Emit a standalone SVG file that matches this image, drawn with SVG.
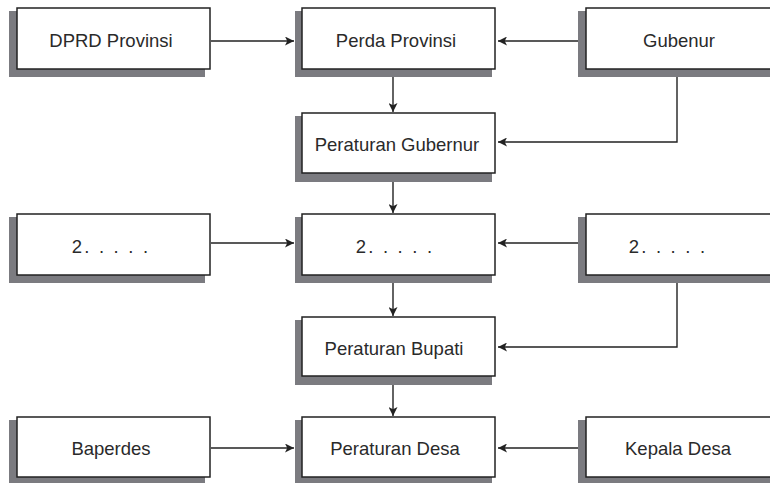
<svg xmlns="http://www.w3.org/2000/svg" width="770" height="483" viewBox="0 0 770 483">
<style>
.sh{fill:#7b7b80;stroke:none}
.bx{fill:#ffffff;stroke:#222222;stroke-width:1.5}
.tx{font-family:"Liberation Sans",Arial,sans-serif;font-size:18.5px;fill:#2a2a2a;text-anchor:middle}
.dots{letter-spacing:2.2px}
.cn{fill:none;stroke:#222222;stroke-width:1.4}
</style>
<defs>
<marker id="ah" viewBox="0 0 10 10" refX="10" refY="5" markerWidth="9" markerHeight="9" markerUnits="userSpaceOnUse" orient="auto">
<path d="M0,0 L10,5 L0,10 L2.5,5 Z" fill="#222222"/>
</marker>
</defs>
<rect width="770" height="483" fill="#ffffff"/>

<g id="dprd">
<rect class="sh" x="9" y="11" width="196" height="66"/>
<rect class="bx" x="17" y="8" width="193" height="61"/>
<text class="tx" x="111" y="47">DPRD Provinsi</text>
</g>
<g id="perda">
<rect class="sh" x="295" y="11" width="197" height="66"/>
<rect class="bx" x="302" y="8" width="193" height="61"/>
<text class="tx" x="396" y="47">Perda Provinsi</text>
</g>
<g id="gubenur">
<rect class="sh" x="578" y="11" width="197" height="66"/>
<rect class="bx" x="586" y="8" width="193" height="61"/>
<text class="tx" x="679" y="47">Gubenur</text>
</g>
<g id="pergub">
<rect class="sh" x="295" y="116" width="197" height="66"/>
<rect class="bx" x="302" y="113" width="193" height="60"/>
<text class="tx" x="397" y="151">Peraturan Gubernur</text>
</g>
<g id="left2">
<rect class="sh" x="9" y="217" width="196" height="66"/>
<rect class="bx" x="17" y="214" width="193" height="61"/>
<text class="tx dots" x="111" y="253">2. . . . .</text>
</g>
<g id="mid2">
<rect class="sh" x="295" y="217" width="197" height="66"/>
<rect class="bx" x="302" y="214" width="193" height="61"/>
<text class="tx dots" x="395" y="253">2. . . . .</text>
</g>
<g id="right2">
<rect class="sh" x="578" y="217" width="197" height="66"/>
<rect class="bx" x="586" y="214" width="193" height="61"/>
<text class="tx dots" x="668" y="253">2. . . . .</text>
</g>
<g id="perbup">
<rect class="sh" x="295" y="320" width="197" height="65"/>
<rect class="bx" x="302" y="317" width="193" height="59"/>
<text class="tx" x="394" y="355">Peraturan Bupati</text>
</g>
<g id="baperdes">
<rect class="sh" x="9" y="420" width="196" height="63"/>
<rect class="bx" x="17" y="417" width="193" height="60"/>
<text class="tx" x="111" y="455">Baperdes</text>
</g>
<g id="perdes">
<rect class="sh" x="295" y="420" width="197" height="63"/>
<rect class="bx" x="302" y="417" width="193" height="60"/>
<text class="tx" x="395" y="455">Peraturan Desa</text>
</g>
<g id="kepaladesa">
<rect class="sh" x="578" y="420" width="197" height="63"/>
<rect class="bx" x="586" y="417" width="193" height="60"/>
<text class="tx" x="678" y="455">Kepala Desa</text>
</g>

<g id="connectors">
<path class="cn" d="M211,41 H294" marker-end="url(#ah)"/>
<path class="cn" d="M578,41 H498" marker-end="url(#ah)"/>
<path class="cn" d="M393,77 V112" marker-end="url(#ah)"/>
<path class="cn" d="M677,77 V142 H498" marker-end="url(#ah)"/>
<path class="cn" d="M393,182 V213" marker-end="url(#ah)"/>
<path class="cn" d="M211,243 H294" marker-end="url(#ah)"/>
<path class="cn" d="M578,243 H498" marker-end="url(#ah)"/>
<path class="cn" d="M393,283 V316" marker-end="url(#ah)"/>
<path class="cn" d="M677,283 V347 H498" marker-end="url(#ah)"/>
<path class="cn" d="M393,385 V416" marker-end="url(#ah)"/>
<path class="cn" d="M211,448 H294" marker-end="url(#ah)"/>
<path class="cn" d="M578,448 H498" marker-end="url(#ah)"/>
</g>
</svg>
